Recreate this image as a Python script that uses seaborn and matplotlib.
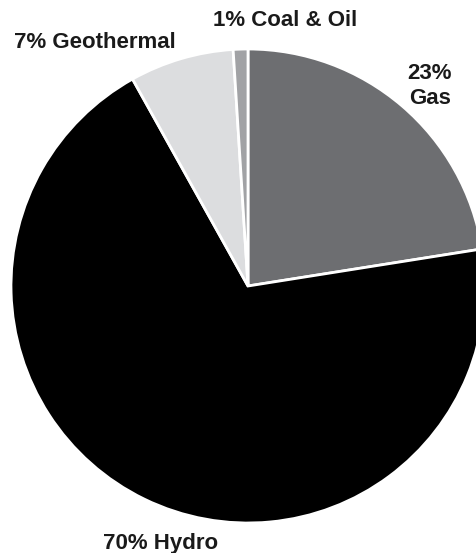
import matplotlib
matplotlib.use("Agg")
import matplotlib.pyplot as plt
import seaborn as sns

sources = ["Gas", "Hydro", "Geothermal", "Coal & Oil"]
shares = [22.5, 69.4, 7.1, 1.0]
labels = ["23%\nGas", "70% Hydro", "7% Geothermal", "1% Coal & Oil"]
colors = ["#6d6e71", "#000000", "#dcdddf", "#a1a2a5"]

sns.set_theme(style="white")
plt.rcParams['font.family'] = ['Liberation Sans', 'DejaVu Sans']

W, H = 476, 553
fig = plt.figure(figsize=(W / 100, H / 100), dpi=100)
ax = fig.add_axes([0, 0, 1, 1])

ax.pie(shares, colors=colors, startangle=90, counterclock=False,
       wedgeprops=dict(edgecolor="white", linewidth=2))

cx, cy, r = 248, 286, 237
ax.set_xlim(-cx / r, (W - cx) / r)
ax.set_ylim(-(H - cy) / r, cy / r)
ax.set_aspect('auto')
ax.axis('off')

# label positions in pixels (x, y from top), alignment
pos = {
    "Gas": (430, 86, 'center'),
    "Hydro": (161, 543, 'center'),
    "Geothermal": (95, 42, 'center'),
    "Coal & Oil": (285, 20, 'center'),
}
for src, lab in zip(sources, labels):
    x, y, ha = pos[src]
    fig.text(x / W, 1 - y / H, lab, ha=ha, va='center', fontsize=16,
             fontweight='bold', color='#1a1a1a', linespacing=1.25)

fig.savefig("out.png", dpi=100, facecolor="white")
